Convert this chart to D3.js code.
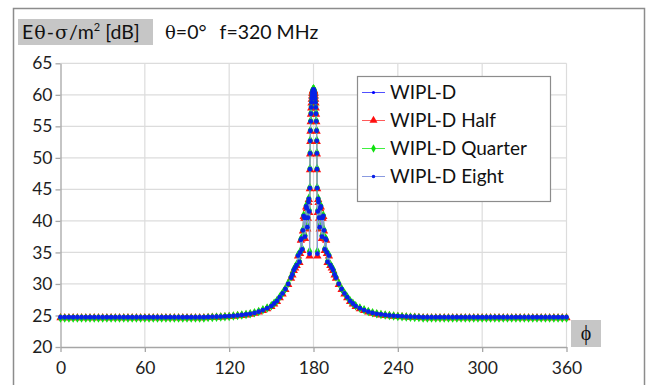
<!DOCTYPE html>
<html>
<head>
<meta charset="utf-8">
<script src="https://cdn.jsdelivr.net/npm/d3@7"></script>
<style>
  body { margin: 0; background: #fff; }
  svg { display: block; font-family: Lato, "Noto Sans", sans-serif; }
</style>
</head>
<body>
<div id="chart"></div>
<script>
// phi angles (deg), shared by all four runs
const phi = [0,3,6,9,12,15,18,21,24,27,30,33,36,39,42,45,48,51,54,57,60,63,66,69,72,75,78,81,84,87,90,93,96,99,102,
  105,108,111,114,117,120,123,126,129,132,135,138,141,144,147,150,
  152,154,156,158,160,162,164,165,166,167,168,169,170,
  170.5,171,171.5,172,172.5,173,173.5,174,174.4,174.8,175.2,175.6,176,176.4,176.7,177,
  177.2,177.4,177.5,177.6,177.7,177.8,178,178.2,178.4,178.6,178.8,179,179.2,179.4,179.6,179.8,180,
  180.2,180.4,180.6,180.8,181,181.2,181.4,181.6,181.8,182,182.2,182.3,182.4,182.5,182.6,182.8,
  183,183.3,183.6,184,184.4,184.8,185.2,185.6,186,186.5,187,187.5,188,188.5,189,189.5,
  190,191,192,193,194,195,196,198,200,202,204,206,208,
  210,213,216,219,222,225,228,231,234,237,240,243,246,249,252,255,
  258,261,264,267,270,273,276,279,282,285,288,291,294,297,300,303,306,309,312,315,318,321,324,327,330,333,336,339,342,345,348,351,354,357,360];

const wipl = [24.7,24.7,24.7,24.7,24.7,24.7,24.7,24.7,24.7,24.7,24.7,24.7,24.7,24.7,24.7,24.7,24.7,24.7,24.7,24.7,24.7,24.7,24.7,24.7,24.7,24.7,24.7,24.7,24.7,24.7,24.7,24.7,24.7,24.7,24.7,
  24.75,24.77,24.79,24.82,24.85,24.89,24.94,25.0,25.07,25.15,25.25,25.4,25.6,25.85,26.15,26.5,
  26.9,27.3,27.9,28.5,29.2,30.0,31.0,31.5,32.2,32.6,33.0,34.5,33.5,
  35.0,37.0,37.2,35.5,38.5,40.8,40.5,37.5,40.5,42.3,42.0,39.0,40.5,43.0,43.5,41.5,
  34.8,45.2,48.2,50.7,52.7,54.3,55.8,57.0,58.0,58.8,59.4,59.9,60.3,60.5,60.7,60.8,60.85,
  60.8,60.7,60.5,60.3,59.9,59.4,58.8,58.0,57.0,55.8,54.3,52.7,50.7,48.2,45.2,34.8,
  41.5,43.5,43.0,40.5,39.0,42.0,42.3,40.5,37.5,40.5,40.8,38.5,35.5,37.2,37.0,35.0,
  33.5,34.5,33.0,32.6,32.2,31.5,31.0,30.0,29.2,28.5,27.9,27.3,26.9,
  26.5,26.15,25.85,25.6,25.4,25.25,25.15,25.07,25.0,24.94,24.89,24.85,24.82,24.79,24.77,24.75,
  24.7,24.7,24.7,24.7,24.7,24.7,24.7,24.7,24.7,24.7,24.7,24.7,24.7,24.7,24.7,24.7,24.7,24.7,24.7,24.7,24.7,24.7,24.7,24.7,24.7,24.7,24.7,24.7,24.7,24.7,24.7,24.7,24.7,24.7,24.7];

const half = [24.62,24.62,24.62,24.62,24.62,24.62,24.62,24.62,24.62,24.62,24.62,24.62,24.62,24.62,24.62,24.62,24.62,24.62,24.62,24.62,24.62,24.62,24.62,24.62,24.62,24.62,24.62,24.62,24.62,24.62,24.62,24.62,24.62,24.62,24.62,
  24.68,24.7,24.72,24.75,24.78,24.82,24.87,24.93,25.0,25.08,25.18,25.32,25.52,25.76,26.05,26.4,
  26.8,27.2,27.8,28.4,29.1,29.9,30.9,31.4,32.1,32.5,32.9,34.4,33.4,
  34.8,36.9,37.1,35.3,38.4,40.7,40.4,37.2,40.4,42.2,41.9,38.7,40.4,42.9,43.4,41.3,
  34.4,45.1,48.1,50.6,52.6,54.2,55.7,56.9,57.9,58.7,59.3,59.8,60.2,60.4,60.6,60.7,60.75,
  60.7,60.6,60.4,60.2,59.8,59.3,58.7,57.9,56.9,55.7,54.2,52.6,50.6,48.1,45.1,34.4,
  41.3,43.4,42.9,40.4,38.7,41.9,42.2,40.4,37.2,40.4,40.7,38.4,35.3,37.1,36.9,34.8,
  33.4,34.4,32.9,32.5,32.1,31.4,30.9,29.9,29.1,28.4,27.8,27.2,26.8,
  26.4,26.05,25.76,25.52,25.32,25.18,25.08,25.0,24.93,24.87,24.82,24.78,24.75,24.72,24.7,24.68,
  24.62,24.62,24.62,24.62,24.62,24.62,24.62,24.62,24.62,24.62,24.62,24.62,24.62,24.62,24.62,24.62,24.62,24.62,24.62,24.62,24.62,24.62,24.62,24.62,24.62,24.62,24.62,24.62,24.62,24.62,24.62,24.62,24.62,24.62,24.62];

const quarter = [24.58,24.58,24.58,24.58,24.58,24.58,24.58,24.58,24.58,24.58,24.58,24.58,24.58,24.58,24.58,24.58,24.58,24.58,24.58,24.58,24.58,24.58,24.58,24.58,24.58,24.58,24.58,24.58,24.58,24.58,24.58,24.58,24.58,24.58,24.58,
  24.66,24.69,24.72,24.76,24.8,24.85,24.91,24.98,25.06,25.15,25.26,25.42,25.63,25.9,26.2,26.55,
  26.95,27.35,27.95,28.55,29.25,30.1,31.1,31.6,32.3,32.7,33.1,34.6,33.6,
  35.1,37.1,37.3,35.6,38.6,40.9,40.6,37.7,40.6,42.4,42.1,39.2,40.6,43.1,43.6,41.7,
  35.2,45.3,48.3,50.8,52.8,54.4,55.9,57.1,58.1,58.9,59.5,60.0,60.4,60.6,60.8,60.9,60.95,
  60.9,60.8,60.6,60.4,60.0,59.5,58.9,58.1,57.1,55.9,54.4,52.8,50.8,48.3,45.3,35.2,
  41.7,43.6,43.1,40.6,39.2,42.1,42.4,40.6,37.7,40.6,40.9,38.6,35.6,37.3,37.1,35.1,
  33.6,34.6,33.1,32.7,32.3,31.6,31.1,30.1,29.25,28.55,27.95,27.35,26.95,
  26.55,26.2,25.9,25.63,25.42,25.26,25.15,25.06,24.98,24.91,24.85,24.8,24.76,24.72,24.69,24.66,
  24.58,24.58,24.58,24.58,24.58,24.58,24.58,24.58,24.58,24.58,24.58,24.58,24.58,24.58,24.58,24.58,24.58,24.58,24.58,24.58,24.58,24.58,24.58,24.58,24.58,24.58,24.58,24.58,24.58,24.58,24.58,24.58,24.58,24.58,24.58];

const eight = [24.72,24.72,24.72,24.72,24.72,24.72,24.72,24.72,24.72,24.72,24.72,24.72,24.72,24.72,24.72,24.72,24.72,24.72,24.72,24.72,24.72,24.72,24.72,24.72,24.72,24.72,24.72,24.72,24.72,24.72,24.72,24.72,24.72,24.72,24.72,
  24.76,24.78,24.8,24.83,24.86,24.9,24.95,25.01,25.08,25.16,25.26,25.41,25.61,25.86,26.16,26.5,
  26.9,27.3,27.9,28.5,29.2,30.0,31.0,31.5,32.2,32.6,33.0,34.5,33.5,
  35.0,37.0,37.2,35.5,38.5,40.8,40.5,37.5,40.5,42.3,42.0,39.0,40.5,43.0,43.5,41.5,
  34.8,45.2,48.2,50.7,52.7,54.3,55.8,57.0,58.0,58.8,59.4,59.9,60.3,60.5,60.7,60.8,60.85,
  60.8,60.7,60.5,60.3,59.9,59.4,58.8,58.0,57.0,55.8,54.3,52.7,50.7,48.2,45.2,34.8,
  41.5,43.5,43.0,40.5,39.0,42.0,42.3,40.5,37.5,40.5,40.8,38.5,35.5,37.2,37.0,35.0,
  33.5,34.5,33.0,32.6,32.2,31.5,31.0,30.0,29.2,28.5,27.9,27.3,26.9,
  26.5,26.16,25.86,25.61,25.41,25.26,25.16,25.08,25.01,24.95,24.9,24.86,24.83,24.8,24.78,24.76,
  24.72,24.72,24.72,24.72,24.72,24.72,24.72,24.72,24.72,24.72,24.72,24.72,24.72,24.72,24.72,24.72,24.72,24.72,24.72,24.72,24.72,24.72,24.72,24.72,24.72,24.72,24.72,24.72,24.72,24.72,24.72,24.72,24.72,24.72,24.72];

const seriesNames = ["WIPL-D", "WIPL-D Half", "WIPL-D Quarter", "WIPL-D Eight"];
const xTicks = [0, 60, 120, 180, 240, 300, 360];
const yTicks = [20, 25, 30, 35, 40, 45, 50, 55, 60, 65];

const W = 648, H = 385;
const svg = d3.select("#chart").append("svg").attr("width", W).attr("height", H);

// outer frame
svg.append("rect").attr("x", 13.5).attr("y", 8.5).attr("width", 631).attr("height", 400)
  .attr("fill", "none").attr("stroke", "#8c8c8c").attr("stroke-width", 1.5);

const x = d3.scaleLinear().domain([0, 360]).range([60.5, 566.5]);
const y = d3.scaleLinear().domain([20, 65]).range([347, 63.3]);

// grid
svg.append("g").selectAll("line").data(yTicks.slice(1)).join("line")
  .attr("x1", x(0)).attr("x2", x(360)).attr("y1", d => y(d)).attr("y2", d => y(d))
  .attr("stroke", "#dcdcdc").attr("stroke-width", 1.2);
svg.append("g").selectAll("line").data(xTicks.slice(1)).join("line")
  .attr("y1", y(20)).attr("y2", y(65)).attr("x1", d => x(d)).attr("x2", d => x(d))
  .attr("stroke", "#dcdcdc").attr("stroke-width", 1.2);

const yAxis = svg.append("g").attr("transform", `translate(${x(0)},0)`)
  .call(d3.axisLeft(y).tickValues(yTicks).tickSize(5).tickPadding(3).tickSizeOuter(0));
const xAxis = svg.append("g").attr("transform", `translate(0,${y(20)})`)
  .call(d3.axisBottom(x).tickValues(xTicks).tickSize(5).tickPadding(10).tickSizeOuter(0));
[xAxis, yAxis].forEach(a => {
  a.selectAll("path, line").attr("stroke", "#a6a6a6").attr("stroke-width", 1.3);
  a.selectAll("text").attr("font-size", 17.5).attr("fill", "#1e1e1e").attr("font-family", "Lato, sans-serif");
});

// series
const runs = [
  { name: seriesNames[0], vals: wipl, line: "#5050ff", fill: "#0000ff", sym: d3.symbolCircle, size: 10 },
  { name: seriesNames[1], vals: half, line: "#ff5a5a", fill: "#ff1010", sym: d3.symbolTriangle, size: 30 },
  { name: seriesNames[2], vals: quarter, line: "#40f040", fill: "#10e010", sym: d3.symbolDiamond, size: 26 },
  { name: seriesNames[3], vals: eight, line: "#8a9ae0", fill: "#0a20e6", sym: d3.symbolCircle, size: 18 }
];

const line = d3.line().x(d => x(d[0])).y(d => y(d[1]));
runs.forEach(s => {
  const pts = phi.map((p, i) => [p, s.vals[i]]);
  svg.append("path").datum(pts).attr("d", line)
    .attr("fill", "none").attr("stroke", s.line).attr("stroke-width", 1);
  svg.append("g").selectAll("path").data(pts).join("path")
    .attr("transform", d => `translate(${x(d[0])},${y(d[1])})`)
    .attr("d", d3.symbol().type(s.sym).size(s.size))
    .attr("fill", s.fill);
});

// legend
const lg = svg.append("g");
lg.append("rect").attr("x", 357.5).attr("y", 76.5).attr("width", 193).attr("height", 125)
  .attr("fill", "#fff").attr("stroke", "#8c8c8c").attr("stroke-width", 1.2);
const legendSizes = [8, 28, 20, 10];
runs.forEach((s, i) => {
  const cy = 92.5 + i * 28;
  lg.append("line").attr("x1", 362).attr("x2", 385).attr("y1", cy).attr("y2", cy)
    .attr("stroke", s.line).attr("stroke-width", 1);
  lg.append("path").attr("transform", `translate(373.5,${cy})`)
    .attr("d", d3.symbol().type(s.sym).size(legendSizes[i])).attr("fill", s.fill);
  lg.append("text").attr("x", 390).attr("y", cy + 6.5).attr("font-size", 19)
    .attr("fill", "#111").text(s.name);
});

// title box
svg.append("rect").attr("x", 18).attr("y", 19).attr("width", 135).attr("height", 26).attr("fill", "#c6c6c6");
const t = svg.append("text").attr("x", 22).attr("y", 39).attr("font-size", 19.5).attr("fill", "#111");
t.append("tspan").text("E");
t.append("tspan").attr("font-family", "DejaVu Serif, serif").attr("font-size", 19).attr("dx", 1).text("θ");
t.append("tspan").attr("dx", 1).text("-");
t.append("tspan").attr("font-family", "DejaVu Serif, serif").attr("font-size", 19).attr("dx", 1).text("σ");
t.append("tspan").attr("dx", 1).text("/m");
t.append("tspan").attr("font-size", 11).attr("dy", -8).text("2");
t.append("tspan").attr("dy", 8).attr("dx", 5).text("[dB]");

const t2 = svg.append("text").attr("x", 165).attr("y", 39).attr("font-size", 19.5).attr("fill", "#111");
t2.append("tspan").attr("font-family", "DejaVu Serif, serif").attr("font-size", 18).text("θ");
t2.append("tspan").text("=0°");
t2.append("tspan").attr("dx", 13).text("f=320 MHz");

// phi label box
svg.append("rect").attr("x", 571).attr("y", 320).attr("width", 30).attr("height", 27).attr("fill", "#c6c6c6");
svg.append("text").attr("x", 586).attr("y", 340).attr("text-anchor", "middle")
  .attr("font-size", 20).attr("font-family", "Liberation Serif, serif").attr("fill", "#111").text("ϕ");
</script>
</body>
</html>
